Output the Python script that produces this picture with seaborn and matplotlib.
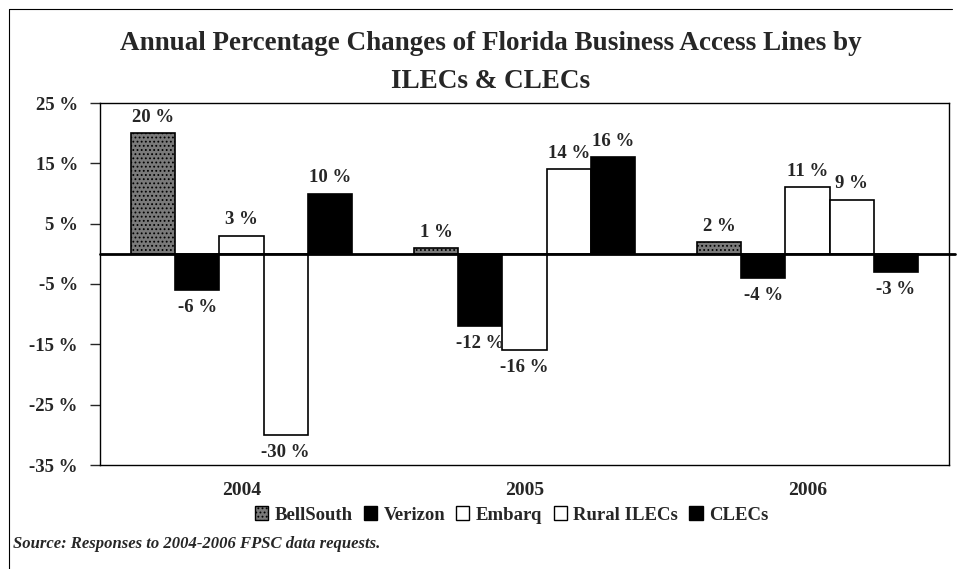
import matplotlib
matplotlib.use("Agg")
import matplotlib.pyplot as plt
import seaborn as sns
import pandas as pd
from matplotlib.patches import Patch
from matplotlib.lines import Line2D

years = ["2004", "2005", "2006"]
companies = ["BellSouth", "Verizon", "Embarq", "Rural ILECs", "CLECs"]
bellsouth = [20, 1, 2]
verizon = [-6, -12, -4]
embarq = [3, -16, 11]
rural = [-30, 14, 9]
clecs = [10, 16, -3]
yticks = [25, 15, 5, -5, -15, -25, -35]

colors = {"BellSouth": "#7a7a7a", "Verizon": "#000000", "Embarq": "#ffffff",
          "Rural ILECs": "#ffffff", "CLECs": "#000000"}

rows = []
for name, vals in zip(companies, [bellsouth, verizon, embarq, rural, clecs]):
    for y, v in zip(years, vals):
        rows.append({"year": y, "company": name, "value": v})
df = pd.DataFrame(rows)

sns.set_style("white")
plt.rcParams["font.family"] = ["Liberation Serif", "DejaVu Serif"]
plt.rcParams["font.weight"] = "bold"
plt.rcParams["hatch.linewidth"] = 0.8

fig = plt.figure(figsize=(9.58, 5.69), dpi=100)
ax = fig.add_axes([100 / 958, 1 - 465 / 569, 849 / 958, 362 / 569])

sns.barplot(data=df, x="year", y="value", hue="company", hue_order=companies,
            order=years, palette=colors, edgecolor="black", linewidth=1.2,
            width=0.78, gap=0, legend=False, ax=ax)

# stipple for BellSouth bars
for bar in ax.containers[0]:
    bar.set_hatch("....")

ax.set_ylim(-35, 25)
ax.set_yticks(yticks)
ax.set_yticklabels([f"{t} %" for t in yticks], fontsize=13.5, fontweight="bold")
ax.set_xticks(range(len(years)))
ax.set_xticklabels(years, fontsize=14, fontweight="bold")
ax.tick_params(axis="y", direction="out", length=7, width=1, left=True, pad=9)
ax.tick_params(axis="x", length=0, pad=12)
ax.set_xlabel("")
ax.set_ylabel("")
for s in ax.spines.values():
    s.set_color("black")
    s.set_linewidth(1.0)
ax.axhline(0, color="black", linewidth=2, zorder=5, xmax=1.007, clip_on=False)

# value labels
for cont in ax.containers:
    for bar in cont:
        h = bar.get_height()
        x = bar.get_x() + bar.get_width() / 2
        if h >= 0:
            ax.text(x, h + 1.2, f"{h:.0f} %", ha="center", va="bottom",
                    fontsize=13.5, fontweight="bold")
        else:
            ax.text(x, h - 1.5, f"{h:.0f} %", ha="center", va="top",
                    fontsize=13.5, fontweight="bold")

fig.text(0.512, 1 - 43 / 569, "Annual Percentage Changes of Florida Business Access Lines by",
         ha="center", va="center", fontsize=19.5, fontweight="bold")
fig.text(0.512, 1 - 81 / 569, "ILECs & CLECs",
         ha="center", va="center", fontsize=19.5, fontweight="bold")

handles = [Patch(facecolor=colors[c], edgecolor="black",
                 hatch="...." if c == "BellSouth" else None) for c in companies]
fig.legend(handles, companies, loc="center", bbox_to_anchor=(0.534, 1 - 515 / 569),
           ncol=5, frameon=False, handlelength=0.7, handleheight=0.7,
           handletextpad=0.35, columnspacing=0.6, prop={"weight": "bold", "size": 13.5})

fig.text(13 / 958, 1 - 544 / 569, "Source: Responses to 2004-2006 FPSC data requests.",
         ha="left", va="center", fontsize=12, fontweight="bold", style="italic")

# outer frame lines
fig.add_artist(Line2D([9 / 958, 9 / 958], [0, 1 - 9 / 569], color="black", linewidth=0.8))
fig.add_artist(Line2D([9 / 958, 952 / 958], [1 - 9 / 569, 1 - 9 / 569], color="black", linewidth=0.8))

fig.savefig("out.png", dpi=100)
